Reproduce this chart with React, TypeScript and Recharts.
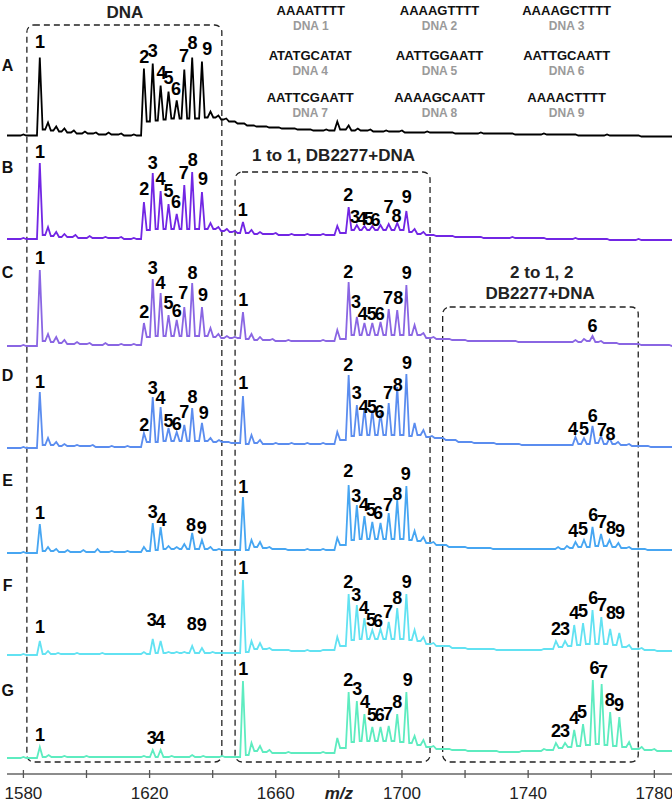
import { Line, LineChart, ReferenceArea, ReferenceDot, XAxis, YAxis } from "recharts";

// m/z axis
const mzDomain = [1574.8, 1785.6];
const mzTicks = [1580, 1600, 1620, 1640, 1660, 1680, 1700, 1720, 1740, 1760, 1780];
const tickLabels: Record<number, string> = {
  1580: "1580",
  1620: "1620",
  1660: "1660",
  1680: "m/z",
  1700: "1700",
  1740: "1740",
  1780: "1780",
};

// spectra: [m/z, peak top, floor after peak] (intensity above each trace's baseline)
type Pt = [number, number, number];

const traceA: Pt[] = [
  [1574.8, 0, 0], [1580, 1, 0], [1585.2, 78, 6], [1587.8, 13, 5], [1590.4, 9, 4], [1593, 7, 3],
  [1596, 5, 2], [1599.5, 4, 2], [1603, 3, 1], [1607, 3, 1], [1611, 2, 0], [1615, 1, 0],
  [1618.2, 67, 14], [1621.0, 72, 15], [1623.5, 50, 16], [1626.0, 44, 17], [1628.6, 35, 17],
  [1631.0, 66, 17], [1633.5, 78, 17], [1636.6, 74, 18], [1639.3, 24, 18], [1641.8, 20, 16],
  [1644.3, 17, 14], [1647, 14, 12], [1650, 12, 10], [1653, 10, 9], [1657, 9, 8], [1661, 8, 7],
  [1666, 7, 6], [1671, 6, 5], [1676, 6, 5], [1679.5, 14, 6], [1683.1, 10, 5], [1686, 7, 5],
  [1690, 6, 4], [1695, 5, 4], [1700, 5, 3], [1708, 4, 3], [1716, 3, 2], [1725, 3, 2],
  [1735, 2, 1], [1745, 2, 1], [1755, 1, 0], [1765, 1, 0], [1775, 0, -1], [1785.6, -1, -1],
];

const traceB: Pt[] = [
  [1574.8, 0, 0], [1580, 1, 0], [1585.2, 76, 4], [1587.8, 12, 3], [1590.4, 7, 2], [1593, 5, 2],
  [1596.5, 4, 1], [1601, 3, 1], [1606, 2, 1], [1611, 2, 0], [1615, 1, 0],
  [1618.2, 37, 9], [1621.0, 66, 10], [1623.5, 48, 10], [1626.0, 35, 10], [1628.6, 25, 10],
  [1631.0, 54, 10], [1633.5, 67, 10], [1636.6, 47, 10], [1639.3, 16, 10], [1641.8, 12, 8],
  [1644.5, 10, 7], [1647, 8, 6], [1649.6, 17, 6], [1652.3, 9, 5], [1655, 7, 5], [1660, 6, 4],
  [1665, 5, 4], [1670, 5, 4], [1675, 5, 4], [1679.5, 13, 6], [1683.1, 32, 9], [1685.7, 14, 9],
  [1688.1, 13, 9], [1690.6, 13, 9], [1693.2, 14, 9], [1695.8, 15, 9], [1698.5, 16, 9],
  [1701.4, 28, 7], [1704, 10, 5], [1706.8, 7, 4], [1710, 4, 3], [1716, 3, 2], [1725, 2, 1],
  [1735, 2, 1], [1745, 1, 0], [1755, 1, 0], [1765, 0, -1], [1775, 0, -1], [1785.6, -1, -1],
];

const traceC: Pt[] = [
  [1574.8, 0, 0], [1580, 1, 0], [1585.2, 76, 5], [1587.8, 12, 4], [1590.4, 9, 3], [1593, 6, 2],
  [1597, 4, 2], [1601, 3, 1], [1606, 3, 1], [1611, 2, 1], [1615, 2, 1],
  [1618.2, 23, 9], [1621.0, 67, 10], [1623.5, 53, 10], [1626.0, 31, 10], [1628.6, 26, 10],
  [1631.0, 39, 10], [1633.5, 63, 10], [1636.6, 39, 10], [1639.3, 18, 9], [1641.8, 12, 8],
  [1644.5, 10, 8], [1647, 9, 8], [1649.6, 34, 7], [1652.3, 12, 6], [1655, 9, 6], [1659, 7, 5],
  [1664, 6, 5], [1670, 5, 5], [1675, 6, 5], [1679.5, 16, 7], [1683.1, 64, 11], [1685.7, 29, 11],
  [1688.1, 23, 11], [1690.6, 23, 11], [1693.2, 24, 11], [1695.8, 37, 11], [1698.5, 36, 11],
  [1701.4, 61, 11], [1704, 21, 11], [1706.8, 13, 8], [1710, 9, 7], [1715, 7, 6], [1720, 6, 5],
  [1728, 5, 5], [1736, 5, 4], [1744, 4, 4], [1750, 4, 4], [1755, 6, 4], [1757.7, 7, 5],
  [1760.4, 10, 4], [1763.1, 5, 3], [1768, 3, 2], [1775, 2, 1], [1785.6, 0, 0],
];

const traceD: Pt[] = [
  [1574.8, 0, 0], [1580, 1, 0], [1585.2, 56, 3], [1587.8, 10, 3], [1590.4, 6, 2], [1593, 4, 2],
  [1597, 3, 2], [1602, 3, 1], [1608, 2, 1], [1613, 2, 1],
  [1618.2, 15, 6], [1621.0, 51, 6], [1623.5, 41, 7], [1626.0, 20, 7], [1628.6, 16, 7],
  [1631.0, 23, 7], [1633.5, 40, 7], [1636.6, 25, 7], [1639.3, 10, 6], [1642, 8, 6], [1645, 6, 5],
  [1649.6, 52, 4], [1652.3, 13, 5], [1655, 8, 4], [1660, 5, 4], [1665, 5, 4], [1670, 5, 4],
  [1675, 5, 4], [1679.5, 16, 8], [1683.1, 73, 12], [1685.7, 43, 13], [1688.1, 40, 13],
  [1690.6, 38, 13], [1693.2, 35, 13], [1695.8, 45, 13], [1698.5, 61, 13], [1701.4, 74, 12],
  [1704, 25, 13], [1706.8, 18, 11], [1709.5, 12, 10], [1713, 10, 8], [1717, 8, 6], [1722, 6, 5],
  [1730, 4, 4], [1738, 3, 3], [1745, 3, 3], [1750, 3, 3], [1755.0, 11, 4], [1757.7, 10, 4],
  [1760.4, 22, 5], [1763.1, 12, 4], [1765.8, 10, 4], [1768.5, 6, 3], [1772, 4, 2], [1778, 2, 1],
  [1785.6, 1, 1],
];

const traceE: Pt[] = [
  [1574.8, 0, 0], [1580, 1, 0], [1585.2, 29, 2], [1587.8, 6, 2], [1590.4, 4, 1], [1594, 3, 1],
  [1599, 3, 1], [1603.5, 4, 1], [1608, 2, 1], [1613, 2, 1],
  [1618.2, 6, 2], [1621.0, 30, 3], [1623.5, 26, 4], [1626.0, 7, 4], [1628.6, 6, 4],
  [1631.0, 9, 4], [1633.5, 20, 4], [1636.6, 13, 4], [1639.3, 6, 3], [1642, 4, 3], [1646, 3, 3],
  [1649.6, 56, 3], [1652.3, 13, 6], [1655, 11, 5], [1658, 6, 4], [1663, 4, 3], [1670, 4, 3],
  [1675, 4, 3], [1679.5, 15, 8], [1683.1, 68, 13], [1685.7, 48, 14], [1688.1, 37, 14],
  [1690.6, 31, 14], [1693.2, 30, 14], [1695.8, 40, 14], [1698.5, 53, 14], [1701.4, 67, 13],
  [1704, 22, 12], [1706.8, 16, 10], [1710, 11, 8], [1714, 8, 6], [1720, 6, 5], [1728, 5, 4],
  [1736, 4, 4], [1744, 4, 4], [1749.5, 6, 4], [1752.3, 7, 5], [1755.0, 11, 6], [1757.7, 13, 6],
  [1760.4, 26, 7], [1763.1, 19, 7], [1765.8, 13, 6], [1768.6, 10, 5], [1772, 6, 4], [1777, 4, 3],
  [1785.6, 3, 3],
];

const traceF: Pt[] = [
  [1574.8, 0, 0], [1580, 1, 0], [1585.2, 14, 1], [1587.8, 4, 1], [1591, 2, 1], [1597, 2, 1],
  [1605, 2, 1], [1612, 1, 1],
  [1618.2, 3, 1], [1621.0, 16, 2], [1623.5, 14, 2], [1626.0, 3, 2], [1628.6, 3, 2],
  [1631.0, 3, 2], [1633.5, 9, 2], [1636.6, 7, 2], [1640, 3, 2], [1645, 2, 2],
  [1649.6, 75, 3], [1652.3, 14, 6], [1655, 12, 6], [1658, 7, 5], [1664, 5, 4], [1670, 5, 4],
  [1675, 5, 5], [1679.5, 18, 9], [1683.1, 61, 15], [1685.7, 50, 16], [1688.1, 37, 16],
  [1690.6, 25, 16], [1693.2, 26, 16], [1695.8, 33, 16], [1698.5, 47, 16], [1701.4, 61, 15],
  [1704, 25, 14], [1706.8, 18, 11], [1710, 12, 9], [1715, 9, 7], [1720, 7, 6], [1730, 5, 5],
  [1738, 5, 5], [1745, 6, 6], [1748.8, 14, 8], [1751.7, 14, 9], [1754.6, 30, 10],
  [1757.4, 32, 11], [1760.4, 45, 11], [1763.2, 38, 11], [1766.0, 26, 10], [1768.9, 22, 8],
  [1772, 10, 6], [1776, 7, 5], [1780, 5, 4], [1785.6, 4, 4],
];

const traceG: Pt[] = [
  [1574.8, 0, 0], [1580, 1, 0], [1585.2, 11, 1], [1588, 3, 1], [1593, 2, 1], [1600, 2, 1],
  [1608, 1, 1], [1615, 1, 1],
  [1618.2, 2, 1], [1621.0, 8, 1], [1623.5, 8, 1], [1627, 2, 1], [1633.5, 3, 1], [1637, 2, 1],
  [1643, 2, 1], [1649.6, 77, 3], [1652.3, 15, 7], [1655, 12, 6], [1658, 8, 5], [1664, 6, 5],
  [1670, 5, 5], [1675, 6, 5], [1679.5, 20, 10], [1683.1, 66, 16], [1685.7, 57, 17],
  [1688.1, 44, 17], [1690.6, 31, 17], [1693.2, 31, 17], [1695.8, 32, 17], [1698.5, 44, 16],
  [1701.4, 66, 15], [1704, 22, 13], [1706.8, 18, 11], [1710, 12, 9], [1715, 9, 8], [1720, 8, 7],
  [1730, 7, 6], [1738, 7, 7], [1745, 9, 8], [1748.8, 15, 10], [1751.7, 15, 11],
  [1754.6, 28, 12], [1757.4, 34, 13], [1760.5, 78, 14], [1763.3, 74, 13], [1766.0, 46, 12],
  [1768.9, 41, 11], [1772, 16, 9], [1776, 11, 8], [1780, 9, 7], [1785.6, 7, 7],
];

// peak number labels: [text, m/z, height on chart]
type Lbl = [string, number, number];

const labelsA: Lbl[] = [
  ["1", 1585.3, 732], ["2", 1618.3, 717], ["3", 1621.0, 723], ["4", 1623.8, 701],
  ["5", 1626.0, 696], ["6", 1628.4, 685], ["7", 1630.9, 718], ["8", 1633.6, 731],
  ["9", 1638.3, 725],
];
const labelsB: Lbl[] = [
  ["1", 1585.3, 622], ["2", 1618.3, 585], ["3", 1621.0, 611], ["4", 1623.5, 595],
  ["5", 1626.0, 583], ["6", 1628.4, 572], ["7", 1630.8, 601], ["8", 1633.7, 614],
  ["9", 1636.9, 595],
  ["1", 1649.5, 564], ["2", 1683.0, 579], ["3", 1685.1, 557], ["4", 1687.3, 555],
  ["5", 1689.5, 555], ["6", 1691.6, 554], ["7", 1695.7, 567], ["8", 1698.3, 558],
  ["9", 1701.5, 577],
];
const labelsC: Lbl[] = [
  ["1", 1585.3, 516], ["2", 1618.3, 462], ["3", 1621.0, 506], ["4", 1623.5, 491],
  ["5", 1626.0, 471], ["6", 1628.6, 463], ["7", 1630.7, 481], ["8", 1633.6, 501],
  ["9", 1636.9, 479],
  ["1", 1649.7, 474], ["2", 1683.0, 502], ["3", 1685.4, 472], ["4", 1687.6, 460],
  ["5", 1690.4, 460], ["6", 1693.0, 460], ["7", 1695.6, 476], ["8", 1698.8, 476],
  ["9", 1701.5, 501],
  ["6", 1760.4, 448],
];
const labelsD: Lbl[] = [
  ["1", 1585.3, 392], ["2", 1618.3, 349], ["3", 1621.0, 386], ["4", 1623.5, 376],
  ["5", 1626.0, 353], ["6", 1628.6, 350], ["7", 1631.0, 362], ["8", 1633.6, 377],
  ["9", 1637.2, 361],
  ["1", 1649.7, 391], ["2", 1683.0, 409], ["3", 1685.7, 381], ["4", 1687.9, 367],
  ["5", 1690.5, 367], ["6", 1692.9, 362], ["7", 1695.6, 381], ["8", 1698.7, 389],
  ["9", 1701.6, 411],
  ["4", 1754.2, 345], ["5", 1757.7, 345], ["6", 1760.5, 358], ["7", 1763.4, 344],
  ["8", 1766.1, 340],
];
const labelsE: Lbl[] = [
  ["1", 1585.3, 261], ["3", 1621.0, 262], ["4", 1623.8, 254], ["8", 1633.1, 249],
  ["9", 1636.5, 246],
  ["1", 1649.7, 287], ["2", 1683.0, 303], ["3", 1685.5, 278], ["4", 1688.0, 269],
  ["5", 1690.2, 264], ["6", 1692.4, 261], ["7", 1695.6, 269], ["8", 1698.5, 280],
  ["9", 1701.2, 300],
  ["4", 1754.3, 243], ["5", 1757.4, 245], ["6", 1760.6, 259], ["7", 1763.4, 252],
  ["8", 1766.3, 246], ["9", 1769.1, 243],
];
const labelsF: Lbl[] = [
  ["1", 1585.3, 147], ["3", 1620.7, 154], ["4", 1623.5, 152], ["8", 1633.4, 150],
  ["9", 1636.5, 149],
  ["1", 1649.7, 206], ["2", 1683.0, 192], ["3", 1685.5, 179], ["4", 1688.0, 166],
  ["5", 1690.2, 154], ["6", 1692.4, 153], ["7", 1695.6, 162], ["8", 1698.5, 176],
  ["9", 1701.5, 192],
  ["2", 1748.8, 145], ["3", 1751.7, 145], ["4", 1754.6, 161], ["5", 1757.4, 163],
  ["6", 1760.6, 176], ["7", 1763.4, 169], ["8", 1766.3, 161], ["9", 1769.1, 161],
];
const labelsG: Lbl[] = [
  ["1", 1585.3, 39], ["3", 1620.7, 36], ["4", 1623.2, 36],
  ["1", 1649.7, 105], ["2", 1683.0, 94], ["3", 1685.8, 85], ["4", 1688.3, 72],
  ["5", 1690.5, 59], ["6", 1693.0, 59], ["7", 1695.6, 60], ["8", 1698.5, 72],
  ["9", 1701.8, 94],
  ["2", 1748.8, 43], ["3", 1751.7, 43], ["4", 1754.6, 56], ["5", 1757.1, 62],
  ["6", 1761.0, 106], ["7", 1763.7, 102], ["8", 1765.9, 74], ["9", 1768.8, 69],
];

// DNA sequence key: [sequence, name, m/z, height]
const sequences: [string, string, number, number][] = [
  ["AAAATTTT", "DNA 1", 1671.1, 764], ["AAAAGTTTT", "DNA 2", 1711.9, 764], ["AAAAGCTTTT", "DNA 3", 1752.2, 764],
  ["ATATGCATAT", "DNA 4", 1670.9, 719], ["AATTGGAATT", "DNA 5", 1711.9, 719], ["AATTGCAATT", "DNA 6", 1752.2, 719],
  ["AATTCGAATT", "DNA 7", 1670.9, 677], ["AAAAGCAATT", "DNA 8", 1711.9, 677], ["AAAACTTTT", "DNA 9", 1752.2, 677],
];

// dashed group boxes: [x1, x2, y1, y2]
const boxes: [number, number, number, number][] = [
  [1581.1, 1642.9, 12, 749],
  [1647.1, 1708.9, 12, 602],
  [1712.9, 1774.9, 12, 467],
];
const boxTitles: Lbl[] = [
  ["DNA", 1612.2, 762],
  ["1 to 1, DB2277+DNA", 1678.3, 619],
  ["2 to 1, 2", 1744.3, 502],
  ["DB2277+DNA", 1743.8, 481],
];

const rows = [
  { name: "A", trace: traceA, labels: labelsA, offset: 638.5, nameY: 709, color: "#000000" },
  { name: "B", trace: traceB, labels: labelsB, offset: 535, nameY: 607, color: "#7226e4" },
  { name: "C", trace: traceC, labels: labelsC, offset: 428, nameY: 502, color: "#8a66e3" },
  { name: "D", trace: traceD, labels: labelsD, offset: 326, nameY: 399, color: "#5b8def" },
  { name: "E", trace: traceE, labels: labelsE, offset: 221, nameY: 294, color: "#47a6f2" },
  { name: "F", trace: traceF, labels: labelsF, offset: 119, nameY: 189, color: "#62e2f2" },
  { name: "G", trace: traceG, labels: labelsG, offset: 16, nameY: 84, color: "#5eecc0" },
];

const PEAK_HALF = 0.9;
const FONT = "'Liberation Sans', Arial, sans-serif";

function buildTrace(trace: Pt[], offset: number) {
  const pts: { mz: number; y: number }[] = [];
  let prevFloor = trace[0][2];
  for (const [mz, top, floor] of trace) {
    pts.push({ mz: mz - PEAK_HALF, y: offset + prevFloor });
    pts.push({ mz, y: offset + top });
    pts.push({ mz: mz + PEAK_HALF, y: offset + floor });
    prevFloor = floor;
  }
  return pts;
}

function AxisTick({ x, y, payload }: any) {
  const label = tickLabels[payload.value];
  const isUnit = label === "m/z";
  return (
    <g>
      <line x1={x} x2={x} y1={y - 4} y2={y + 4} stroke="#555" strokeWidth={1.3} />
      {label && (
        <text
          x={x}
          y={y + 25}
          textAnchor="middle"
          fontSize={17}
          fontFamily={FONT}
          fontWeight={isUnit ? 700 : 400}
          fontStyle={isUnit ? "italic" : "normal"}
          fill="#222"
        >
          {label}
        </text>
      )}
    </g>
  );
}

function textDot(text: string, size: number, weight: number, fill: string) {
  return (p: any) => (
    <text
      x={p.cx}
      y={p.cy}
      dy="0.35em"
      textAnchor="middle"
      fontSize={size}
      fontWeight={weight}
      fontFamily={FONT}
      fill={fill}
    >
      {text}
    </text>
  );
}

export default function App() {
  return (
    <div style={{ position: "absolute", left: 0, top: 0, background: "#fff" }}>
      <LineChart width={672} height={803} margin={{ top: 0, right: 0, left: 7, bottom: 0 }}>
        <XAxis
          dataKey="mz"
          type="number"
          domain={mzDomain}
          ticks={mzTicks}
          interval={0}
          allowDataOverflow
          height={29}
          tickSize={0}
          tickMargin={0}
          tickLine={false}
          axisLine={{ stroke: "#666", strokeWidth: 1.5 }}
          tick={<AxisTick />}
        />
        <YAxis hide type="number" domain={[0, 774]} allowDataOverflow />

        {boxes.map(([x1, x2, y1, y2], i) => (
          <ReferenceArea
            key={`box-${i}`}
            x1={x1}
            x2={x2}
            y1={y1}
            y2={y2}
            ifOverflow="visible"
            shape={(p: any) => (
              <rect
                x={p.x}
                y={p.y}
                width={p.width}
                height={p.height}
                rx={7}
                fill="none"
                stroke="#222"
                strokeWidth={1.3}
                strokeDasharray="6 4"
              />
            )}
          />
        ))}

        {rows.map((r) => (
          <Line
            key={r.name}
            data={buildTrace(r.trace, r.offset)}
            dataKey="y"
            type="linear"
            stroke={r.color}
            strokeWidth={1.8}
            dot={false}
            activeDot={false}
            isAnimationActive={false}
          />
        ))}

        {rows.map((r) => (
          <ReferenceDot
            key={`name-${r.name}`}
            x={1575.0}
            y={r.nameY}
            r={0}
            ifOverflow="visible"
            shape={textDot(r.name, 16, 700, "#111")}
          />
        ))}

        {rows.flatMap((r) =>
          r.labels.map(([t, mz, y], i) => (
            <ReferenceDot
              key={`lbl-${r.name}-${i}`}
              x={mz}
              y={y}
              r={0}
              ifOverflow="visible"
              shape={textDot(t, 18, 700, "#000")}
            />
          ))
        )}

        {boxTitles.map(([t, mz, y], i) => (
          <ReferenceDot
            key={`title-${i}`}
            x={mz}
            y={y}
            r={0}
            ifOverflow="visible"
            shape={textDot(t, 17, 700, "#222")}
          />
        ))}

        {sequences.flatMap(([seq, name, mz, y], i) => [
          <ReferenceDot
            key={`seq-${i}`}
            x={mz}
            y={y}
            r={0}
            ifOverflow="visible"
            shape={textDot(seq, 13, 700, "#111")}
          />,
          <ReferenceDot
            key={`seqn-${i}`}
            x={mz}
            y={y - 16}
            r={0}
            ifOverflow="visible"
            shape={textDot(name, 12, 700, "#9a9a9a")}
          />,
        ])}
      </LineChart>
    </div>
  );
}
